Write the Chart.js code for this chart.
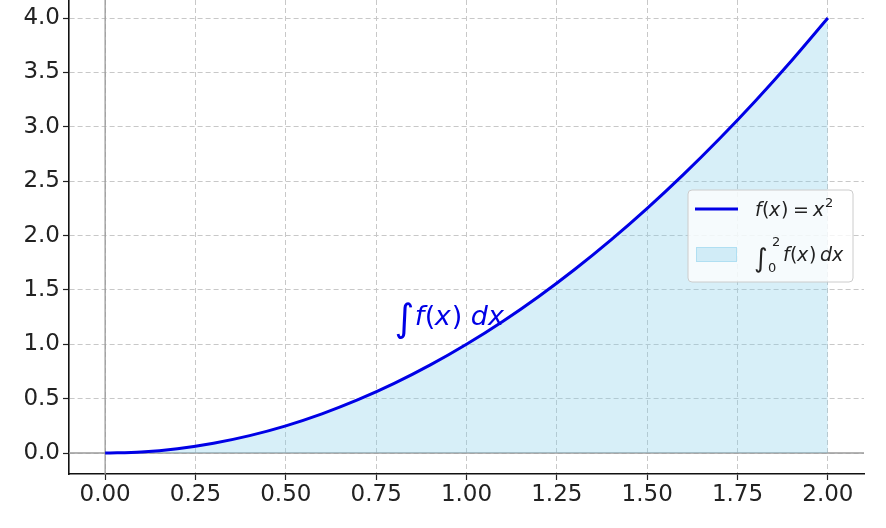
<!DOCTYPE html>
<html>
<head>
<meta charset="utf-8">
<script src="https://cdn.jsdelivr.net/npm/chart.js@4.4.1/dist/chart.umd.min.js"></script>
<style>
  html, body { margin: 0; padding: 0; background: #fff; }
  #wrap { width: 886px; height: 528px; }
</style>
</head>
<body>
<div id="wrap"><canvas id="c" width="886" height="528"></canvas></div>
<script>
// curve points, f(x) = x^2
const xs = [0, 0.1, 0.2, 0.3, 0.4, 0.5, 0.6, 0.7, 0.8, 0.9, 1.0, 1.1, 1.2, 1.3, 1.4, 1.5, 1.6, 1.7, 1.8, 1.9, 2.0];
const ys = [0, 0.01, 0.04, 0.09, 0.16, 0.25, 0.36, 0.49, 0.64, 0.81, 1.0, 1.21, 1.44, 1.69, 1.96, 2.25, 2.56, 2.89, 3.24, 3.61, 4.0];
const xTicks = [0, 0.25, 0.5, 0.75, 1.0, 1.25, 1.5, 1.75, 2.0];
const yTicks = [0, 0.5, 1.0, 1.5, 2.0, 2.5, 3.0, 3.5, 4.0];
const lineLabel = 'f(x) = x²';
const areaLabel = '∫₀² f(x) dx';

const blue = '#0000e6';
const fillBlue = 'rgba(135, 206, 235, 0.33)';
const font = '"DejaVu Sans", sans-serif';

const points = xs.map((x, i) => ({ x: x, y: ys[i] }));

const extras = {
  id: 'extras',
  beforeDatasetsDraw(chart) {
    // solid zero lines
    const ctx = chart.ctx, a = chart.chartArea;
    const x0 = chart.scales.x.getPixelForValue(0);
    const y0 = chart.scales.y.getPixelForValue(0);
    ctx.save();
    ctx.strokeStyle = '#9a9a9a';
    ctx.lineWidth = 1.3;
    ctx.beginPath();
    ctx.moveTo(x0, a.top); ctx.lineTo(x0, a.bottom);
    ctx.moveTo(a.left, y0); ctx.lineTo(a.right, y0);
    ctx.stroke();
    ctx.restore();
  },
  afterDatasetsDraw(chart) {
    const ctx = chart.ctx;
    const sx = chart.scales.x, sy = chart.scales.y;
    ctx.save();
    // annotation
    const ax = sx.getPixelForValue(0.81), ay = sy.getPixelForValue(1.18);
    ctx.fillStyle = blue;
    ctx.textBaseline = 'alphabetic';
    ctx.font = '38px ' + font;
    ctx.fillText('∫', ax - 3, ay + 6);
    ctx.font = 'italic 27px ' + font;
    ctx.fillText('f', ax + 17, ay);
    ctx.font = '27px ' + font;
    ctx.fillText('(', ax + 27, ay);
    ctx.font = 'italic 27px ' + font;
    ctx.fillText('x', ax + 37, ay);
    ctx.font = '27px ' + font;
    ctx.fillText(')', ax + 54, ay);
    ctx.font = 'italic 27px ' + font;
    ctx.fillText('dx', ax + 73, ay);

    // legend box
    const lx = 688, ly = 190, lw = 165, lh = 92;
    ctx.beginPath();
    ctx.roundRect(lx, ly, lw, lh, 4);
    ctx.fillStyle = 'rgba(255,255,255,0.8)';
    ctx.fill();
    ctx.strokeStyle = '#cccccc';
    ctx.lineWidth = 1;
    ctx.stroke();

    ctx.strokeStyle = blue;
    ctx.lineWidth = 3;
    ctx.beginPath();
    ctx.moveTo(695, 209); ctx.lineTo(738, 209);
    ctx.stroke();

    ctx.fillStyle = fillBlue;
    ctx.fillRect(696, 247, 41, 15);
    ctx.strokeStyle = 'rgba(135, 206, 235, 0.45)';
    ctx.lineWidth = 1;
    ctx.strokeRect(696.5, 247.5, 40, 14);

    ctx.fillStyle = '#222';
    ctx.font = 'italic 19px ' + font;
    ctx.fillText('f', 755, 216);
    ctx.font = '19px ' + font;
    ctx.fillText('(', 762, 216);
    ctx.font = 'italic 19px ' + font;
    ctx.fillText('x', 769, 216);
    ctx.font = '19px ' + font;
    ctx.fillText(')', 781, 216);
    ctx.fillText('=', 793, 216);
    ctx.font = 'italic 19px ' + font;
    ctx.fillText('x', 813, 216);
    ctx.font = '13px ' + font;
    ctx.fillText('2', 825, 207);

    ctx.font = '26px ' + font;
    ctx.fillText('∫', 754, 267);
    ctx.font = '13px ' + font;
    ctx.fillText('2', 772, 246);
    ctx.fillText('0', 768, 272);
    ctx.font = 'italic 19px ' + font;
    ctx.fillText('f', 783, 261);
    ctx.font = '19px ' + font;
    ctx.fillText('(', 790, 261);
    ctx.font = 'italic 19px ' + font;
    ctx.fillText('x', 797, 261);
    ctx.font = '19px ' + font;
    ctx.fillText(')', 809, 261);
    ctx.font = 'italic 19px ' + font;
    ctx.fillText('dx', 820, 261);
    ctx.restore();
  }
};

new Chart(document.getElementById('c'), {
  type: 'line',
  data: {
    datasets: [{
      label: lineLabel,
      data: points,
      borderColor: blue,
      borderWidth: 3,
      pointRadius: 0,
      tension: 0.4,
      cubicInterpolationMode: 'monotone',
      fill: 'origin',
      backgroundColor: fillBlue
    }]
  },
  options: {
    responsive: false,
    animation: false,
    layout: { padding: { top: 0, right: 22, left: 0, bottom: 0 } },
    plugins: { legend: { display: false }, tooltip: { enabled: false } },
    scales: {
      x: {
        type: 'linear',
        min: -0.1, max: 2.1,
        afterBuildTicks: s => { s.ticks = xTicks.map(v => ({ value: v })); },
        afterFit: s => { s.height = 54; s.paddingLeft = 0; s.paddingRight = 0; },
        grid: { color: '#c8c8c8', tickColor: '#222', tickLength: 6, tickBorderDash: [], tickWidth: 1.2 },
        border: { display: true, color: '#111', width: 1.6, dash: [5, 3] },
        ticks: {
          color: '#222', padding: 1, maxRotation: 0,
          font: { family: font, size: 23 },
          callback: v => v.toFixed(2)
        }
      },
      y: {
        min: -0.193, max: 4.166,
        afterBuildTicks: s => { s.ticks = yTicks.map(v => ({ value: v })); },
        afterFit: s => { s.width = 69; s.paddingTop = 0; s.paddingBottom = 0; },
        grid: { color: '#c8c8c8', tickColor: '#222', tickLength: 6, tickBorderDash: [], tickWidth: 1.2 },
        border: { display: true, color: '#111', width: 1.6, dash: [5, 3] },
        ticks: {
          color: '#222', padding: 3,
          font: { family: font, size: 23 },
          callback: v => v.toFixed(1)
        }
      }
    }
  },
  plugins: [extras]
});
</script>
</body>
</html>
